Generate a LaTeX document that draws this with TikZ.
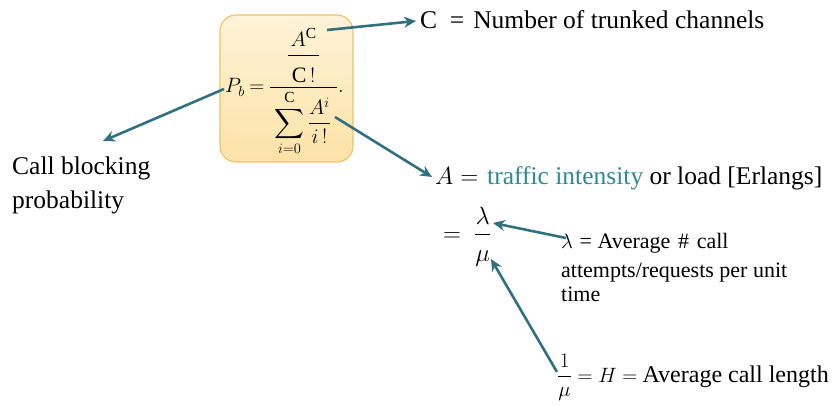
\documentclass[tikz,border=0pt]{standalone}
\usepackage{amsmath}
\usepackage{fontspec}
\setmainfont{Liberation Serif}
\usetikzlibrary{arrows.meta}
\definecolor{arr}{HTML}{31707F}
\definecolor{tealtxt}{HTML}{2C8A8E}
\definecolor{boxtop}{HTML}{FEF3D8}
\definecolor{boxbot}{HTML}{FCE2A6}
\definecolor{boxdraw}{HTML}{F2BE6A}
\newcommand{\dstrut}[1]{\rule[-#1]{0pt}{#1}}
\newcommand{\hstrut}[1]{\rule{0pt}{#1}}
\begin{document}
\begin{tikzpicture}[x=1pt,y=-1pt,
  conn/.style={arr, line width=2.6pt, -{Stealth[length=12pt,width=11pt]}},
  big/.style={anchor=base west, inner sep=0pt, font=\fontsize{25.5}{30}\selectfont},
  sml/.style={anchor=base west, inner sep=0pt, font=\fontsize{22}{24}\selectfont},
  mth/.style={inner sep=0pt, font=\fontsize{22}{26}\selectfont}]
\useasboundingbox (0,0) rectangle (837,406);
\node[draw=boxdraw, top color=boxtop, bottom color=boxbot, rounded corners=16pt, line width=1.1pt,
      minimum width=133pt, minimum height=147pt] (box) at (286.5,88.5) {};
\node[mth, anchor=base west] (formula) at (225,93)
  {$\thickmuskip=4mu P_b=\dfrac{\dfrac{A^{\mathrm{C}}\dstrut{6pt}}{\hstrut{25pt}\hspace{4pt}\mathrm{C}\,!\hspace{4pt}\dstrut{2pt}}}{\hstrut{31pt}\hspace{1pt}\displaystyle\sum_{i=0}^{\mathrm{C}}\dfrac{A^i\dstrut{3pt}}{\hstrut{17pt}i\,!}\hspace{6pt}}.$};
\coordinate (ac) at (327,30);
\coordinate (pb) at (224,89);
\coordinate (ai) at (335,117);
\node[big] (cdef) at (420,29) {C\hspace{0.5em}=\hspace{0.35em}Number of trunked channels};
\coordinate (cend) at (416,21);
\node[big] (call1) at (12,175) {Call blocking};
\node[big] (call2) at (12,208) {probability};
\coordinate (cbend) at (103,141);
\node[big] (adef) at (435,185) {$A=$\hspace{0.35em}\textcolor{tealtxt}{traffic intensity} or load [Erlangs]};
\coordinate (aend) at (432,177);
\node[mth, anchor=base west, font=\fontsize{25}{28}\selectfont] (lm) at (443,241)
  {$=\ \dfrac{\lambda\dstrut{6pt}}{\hstrut{23pt}\mu}$};
\coordinate (lam) at (493,223);
\coordinate (mu) at (491,259);
\node[sml] (l1) at (561,248) {$\lambda$\hspace{0.3em}=\hspace{0.25em}Average\hspace{0.35em}\#\hspace{0.35em}call};
\node[sml] (l2) at (561,277) {attempts/requests per unit};
\node[sml] (l3) at (561,301) {time};
\node[sml, anchor=base west, font=\fontsize{21}{28}\selectfont] (hdef) at (557,382)
  {$\thickmuskip=5mu\dfrac{1}{\mu}=H=$\hspace{0.25em}{\fontsize{24}{28}\selectfont Average call length}};
\coordinate (hs) at (557,372);
\coordinate (ls) at (566,238);
\draw[conn] (ac) -- (cend);
\draw[conn] (pb) -- (cbend);
\draw[conn] (ai) -- (aend);
\draw[conn] (ls) -- (lam);
\draw[conn] (hs) -- (mu);
\end{tikzpicture}
\end{document}
